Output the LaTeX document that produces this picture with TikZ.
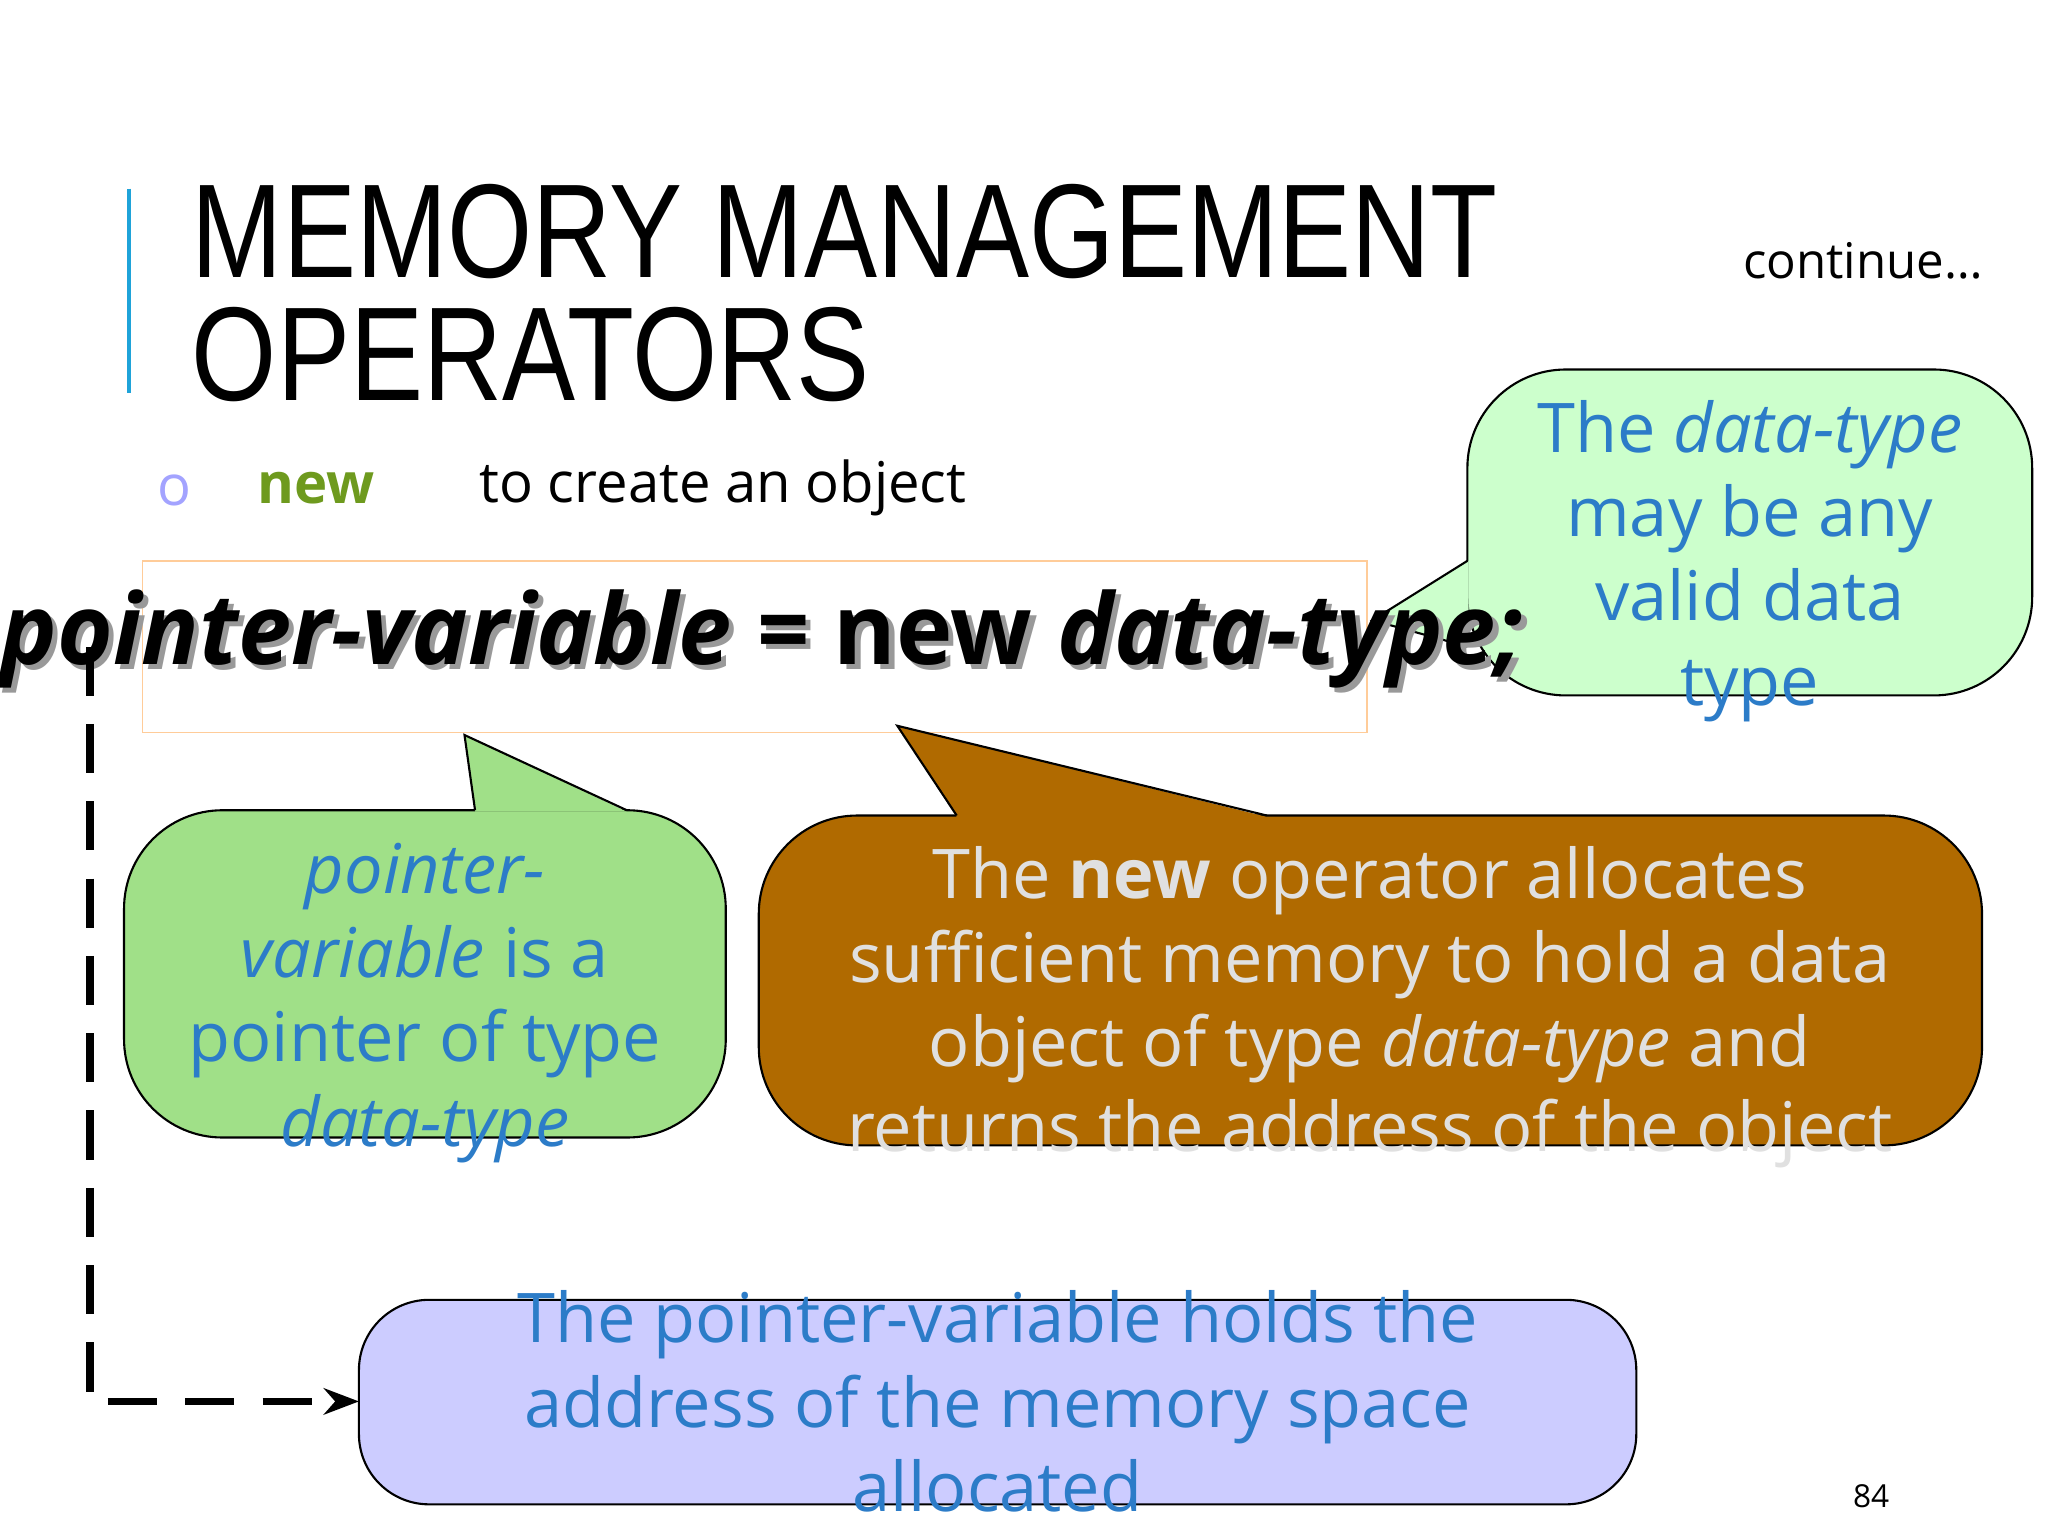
\documentclass[tikz,border=0pt]{standalone}
\usepackage{fontspec}
\setmainfont{Open Sans}
\newfontfamily\titlefont{Liberation Sans}
\usetikzlibrary{arrows.meta}
\definecolor{tblue}{HTML}{2C7CC8}
\definecolor{lgreen}{HTML}{CCFFCC}
\definecolor{mgreen}{HTML}{A0E088}
\definecolor{brown}{HTML}{B06A00}
\definecolor{lav}{HTML}{CCCCFF}
\definecolor{olive}{HTML}{6E9A1E}
\tikzset{bub/.style={draw=black,line width=0.6pt,rounded corners=28},
 edge/.style={draw=black,line width=0.6pt},
 body/.style={font=\fontsize{19.5}{24}\selectfont,align=center,inner sep=0pt}}
\begin{document}
\begin{tikzpicture}[x=0.013196cm,y=-0.013196cm]
\useasboundingbox (0,0) rectangle (1552,1164);
\fill[white] (0,0) rectangle (1552,1164);
\draw[color=tblue!70!cyan,line width=1.2pt] (98,143) -- (98,298);
\node[anchor=west,inner sep=0pt,align=left,xscale=0.82,transform shape,font=\titlefont\fontsize{38}{35}\selectfont] (title) at (145,222) {MEMORY MANAGEMENT\\OPERATORS};
\node[anchor=east,font=\fontsize{14}{16}\selectfont] (cont) at (1512,198) {continue\ldots};
\node[text=lav!80!blue,font=\fontsize{16}{18}\selectfont] (bul) at (132,372) {o};
\node[anchor=west,text=olive,font=\bfseries\fontsize{16}{18}\selectfont] (new) at (186,370) {new};
\node[anchor=west,font=\fontsize{16}{18}\selectfont] (cr) at (354,370) {to create an object};
\draw[orange!40,line width=0.5pt] (108,425) rectangle (1036,555);
% right green bubble
\draw[bub,fill=lgreen] (1112,280) rectangle (1540,527);
\fill[lgreen] (1113,425) -- (1040,470) -- (1113,490) -- cycle;
\draw[edge] (1112,425) -- (1040,470) -- (1112,490);
\node[body,text=tblue] (rg) at (1326,425) {The \textit{data-type}\\may be any\\valid data\\type};
% formula
\node[anchor=west,inner sep=0pt,xscale=0.97,transform shape,text=black!40,font=\bfseries\itshape\fontsize{28}{30}\selectfont] at (4,488) {pointer-variable = \upshape new \itshape data-type;};
\node[anchor=west,inner sep=0pt,xscale=0.97,transform shape,font=\bfseries\itshape\fontsize{28}{30}\selectfont] (form) at (0,484) {pointer-variable = \upshape new \itshape data-type;};
% left green bubble
\draw[bub,fill=mgreen] (94,614) rectangle (550,862);
\fill[mgreen] (360,615) -- (352,557) -- (475,615) -- cycle;
\draw[edge] (360,614) -- (352,557) -- (475,614);
\node[body,text=tblue] (lg) at (322,760) {\textit{pointer-}\\\textit{variable} is a\\pointer of type\\\textit{data-type}};
% brown bubble
\draw[bub,fill=brown] (575,618) rectangle (1502,868);
\fill[brown] (725,619) -- (680,550) -- (960,619) -- cycle;
\draw[edge] (725,618) -- (680,550) -- (960,618);
\node[body,text=white!88!black] (br) at (1038,763) {The \textbf{new} operator allocates\\sufficient memory to hold a data\\object of type \textit{data-type} and\\returns the address of the object};
% blue box
\draw[bub,fill=lav,rounded corners=20] (272,985) rectangle (1240,1140);
\node[body,text=tblue] (bt) at (756,1062) {The pointer-variable holds the\\address of the memory space\\allocated};
\coordinate (s) at (68,490);
\coordinate (c) at (68,1062);
\coordinate (e) at (272,1062);
\draw[line width=2.2pt,dash pattern=on 14pt off 8pt,-{Stealth[length=10pt]}] (s) -- (c) -- (e);
\node[font=\fontsize{9}{10}\selectfont] (pg) at (1418,1134) {84};
\end{tikzpicture}
\end{document}
